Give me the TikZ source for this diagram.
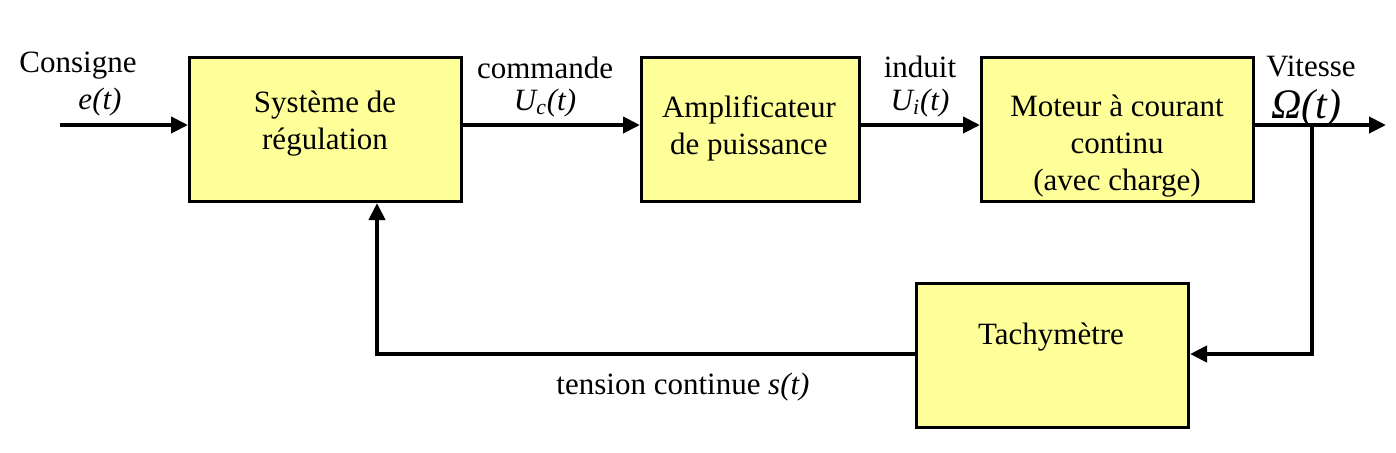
\documentclass[tikz,border=0pt]{standalone}
\usepackage{fontspec}
\setmainfont{Liberation Serif}
\usetikzlibrary{arrows.meta}
\definecolor{boxfill}{RGB}{255,255,153}
\tikzset{
  blk/.style={draw=black, line width=1.5pt, fill=boxfill, inner sep=0pt, anchor=north west},
  lbl/.style={inner sep=0pt, align=center, font=\fontsize{15.5}{18.5}\selectfont},
  sig/.style={line width=2pt, -{Triangle[length=8.5pt,width=8pt]}},
  wire/.style={line width=2pt}
}
\begin{document}
\begin{tikzpicture}[x=0.5pt,y=-0.5pt]
\useasboundingbox (0,0) rectangle (1396,452);
% blocks
\node[blk, minimum width=136pt, minimum height=72pt] (reg) at (188,56) {};
\node[blk, minimum width=109pt, minimum height=72pt] (amp) at (640,56) {};
\node[blk, minimum width=136pt, minimum height=72pt] (mot) at (980,56) {};
\node[blk, minimum width=136pt, minimum height=72pt] (tach) at (915,282) {};
% block texts
\node[lbl] (regt) at (325,124) {Système de\\régulation};
\node[lbl] (ampt) at (749,128) {Amplificateur\\de puissance};
\node[lbl] (mott) at (1117,146) {Moteur à courant\\continu\\(avec charge)};
\node[lbl] (tacht) at (1051,337) {Tachymètre};
% signal labels
\node[lbl] (cons) at (78,66) {Consigne};
\node[lbl] (et) at (100,102) {\itshape e(t)};
\node[lbl] (comm) at (545,68) {commande};
\node[lbl] (uc) at (545,103) {\itshape U\textsubscript{c}(t)};
\node[lbl] (ind) at (920,67) {induit};
\node[lbl] (ui) at (920,103) {\itshape U\textsubscript{i}(t)};
\node[lbl] (vit) at (1311,66) {Vitesse};
\node[lbl, font=\fontsize{21}{24}\selectfont] (om) at (1306,108) {\itshape Ω(t)};
\node[lbl] (tens) at (683,387) {tension continue \textit{s(t)}};
% coordinates
\coordinate (in) at (60,125);
\coordinate (out) at (1386,125);
\coordinate (br) at (1312,125);
\coordinate (brd) at (1312,354);
\coordinate (fbc) at (377,354);
% connectors
\draw[sig] (in) -- (reg.west |- in);
\draw[sig] (reg.east |- in) -- (amp.west |- in);
\draw[sig] (amp.east |- in) -- (mot.west |- in);
\draw[sig] (mot.east |- in) -- (out);
\draw[sig] (br) -- (brd) -- (tach.east |- brd);
\draw[sig] (tach.west |- brd) -- (fbc) -- (reg.south -| fbc);
\end{tikzpicture}
\end{document}
